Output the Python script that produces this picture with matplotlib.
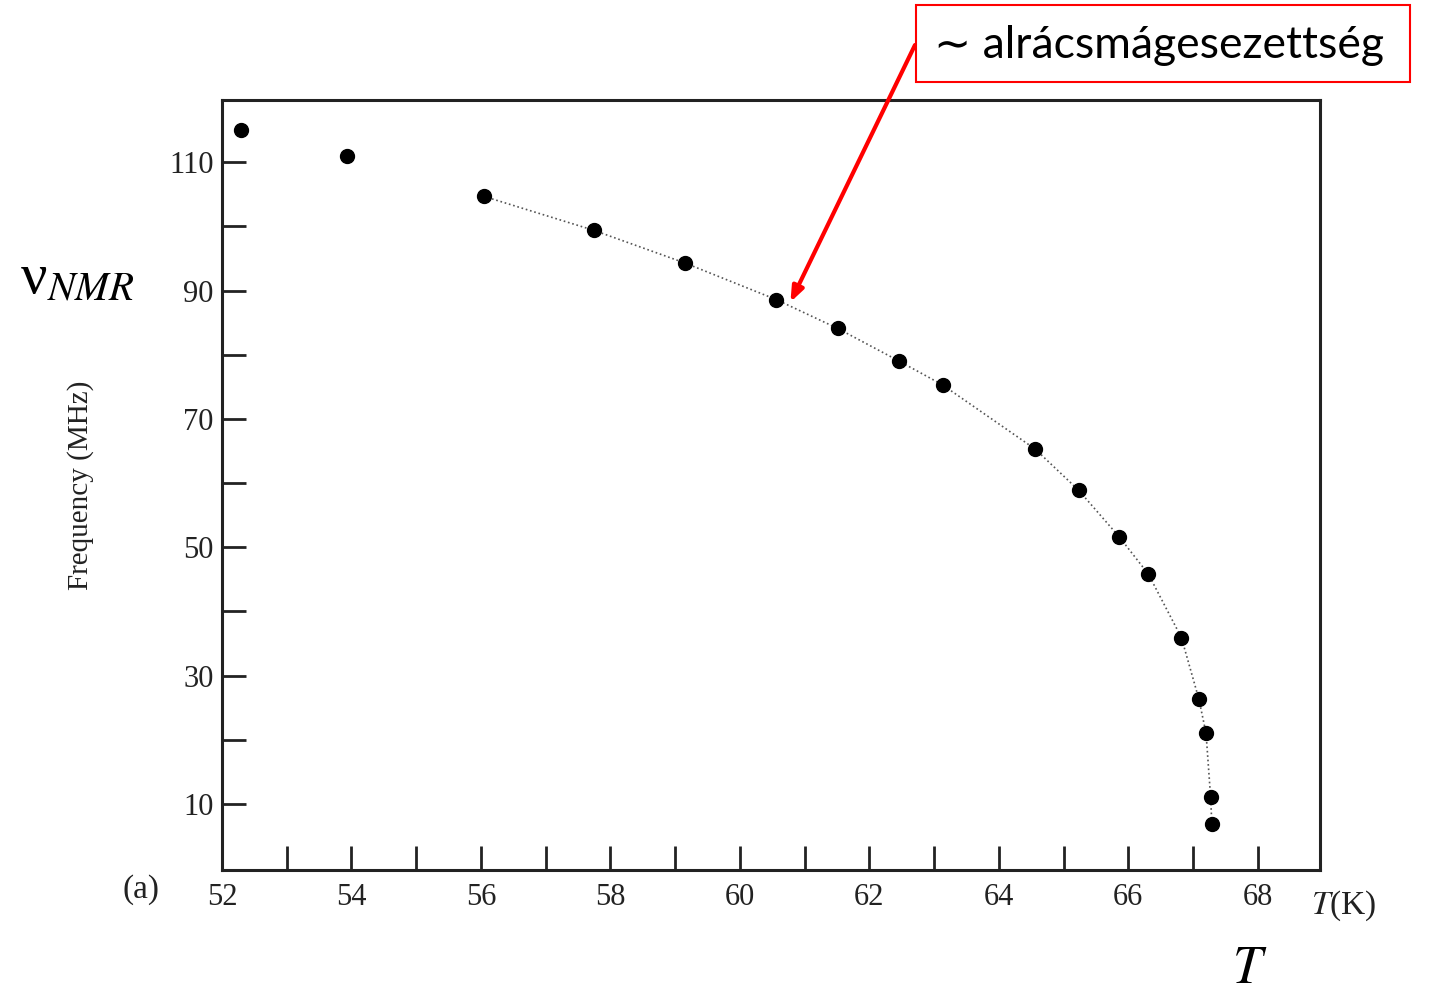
import matplotlib.pyplot as plt
from matplotlib.patches import Rectangle

# Adatok
T_K = [52.30, 53.93, 56.04, 57.74, 59.15, 60.56, 61.51, 62.46, 63.13,
       64.56, 65.23, 65.86, 66.31, 66.82, 67.09, 67.20, 67.27, 67.29]
freq_MHz = [115.1, 110.9, 104.7, 99.4, 94.3, 88.6, 84.1, 79.0, 75.3,
            65.3, 58.9, 51.6, 45.8, 35.9, 26.3, 21.0, 11.1, 6.8]

x_major = [52, 54, 56, 58, 60, 62, 64, 66, 68]
x_minor = [53, 55, 57, 59, 61, 63, 65, 67]
y_major = [10, 30, 50, 70, 90, 110]
y_minor = [20, 40, 60, 80, 100]

serif = 'Liberation Serif'
plt.rcParams['mathtext.fontset'] = 'stix'

fig = plt.figure(figsize=(14.35, 9.96), dpi=100)
ax = fig.add_axes([222 / 1435, 1 - 870 / 996, 1098 / 1435, 770 / 996])

# pontok es illesztett gorbe
ax.plot(T_K[2:], freq_MHz[2:], linestyle=':', color='#555555', lw=1.2)
ax.plot(T_K, freq_MHz, 'o', color='black', markersize=10)

ax.set_xlim(52, 68.96)
ax.set_ylim(-0.3, 119.7)

ax.set_xticks(x_major)
ax.set_xticks(x_minor, minor=True)
ax.set_yticks(y_major)
ax.set_yticks(y_minor, minor=True)
ax.tick_params(which='both', direction='in', width=2, length=17, color='#222222')
ax.tick_params(axis='x', which='major', pad=9)
ax.tick_params(axis='y', which='major', pad=6)
for lbl in ax.get_xticklabels() + ax.get_yticklabels():
    lbl.set_fontfamily(serif)
    lbl.set_fontsize(22)
    lbl.set_color('#222222')

for sp in ax.spines.values():
    sp.set_linewidth(2.2)
    sp.set_color('#222222')

ax.set_ylabel('Frequency (MHz)', fontfamily=serif, fontsize=21, color='#222222', labelpad=54)

fig.text(141 / 1435, 1 - 890 / 996, '(a)', fontfamily=serif, fontsize=24,
         ha='center', va='center', color='#222222')
fig.text(1344 / 1435, 1 - 906 / 996, r'$T$(K)', fontfamily=serif, fontsize=24,
         ha='center', va='center', color='#222222')

# jelolesek a dian
fig.text(77 / 1435, 1 - 280 / 996, r'ν$_{NMR}$', fontfamily=serif, fontsize=42,
         ha='center', va='center', color='black')
fig.text(1250 / 1435, 1 - 968 / 996, r'$T$', fontsize=38,
         ha='center', va='center', color='black')

fig.patches.append(Rectangle((916 / 1435, 1 - 82 / 996), 494 / 1435, 77 / 996,
                             transform=fig.transFigure, fill=False,
                             edgecolor='red', linewidth=1.5))
fig.text(1159 / 1435, 1 - 45 / 996, '∼ alrácsmágesezettség', family=['Lato', 'DejaVu Sans'],
         fontsize=32, ha='center', va='center', color='black')

ax.annotate('', xy=(60.78, 88.2), xycoords='data',
            xytext=(915 / 1435, 1 - 45 / 996), textcoords='figure fraction',
            arrowprops=dict(arrowstyle='-|>,head_length=0.9,head_width=0.35',
                            color='red', lw=3, shrinkA=0, shrinkB=0),
            annotation_clip=False)

fig.savefig('out.png', dpi=100)
